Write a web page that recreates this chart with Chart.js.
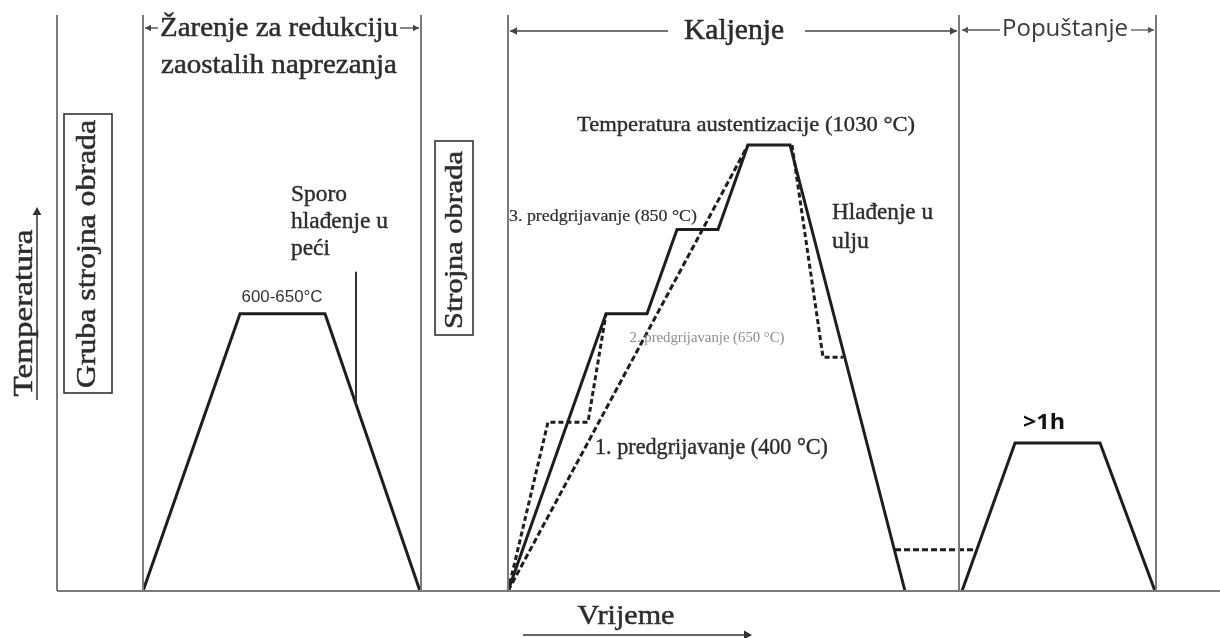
<!DOCTYPE html>
<html>
<head>
<meta charset="utf-8">
<script src="https://cdn.jsdelivr.net/npm/chart.js@4.4.1/dist/chart.umd.min.js"></script>
<style>
html,body{margin:0;padding:0;background:#fff;}
#wrap{width:1220px;height:638px;position:relative;}
</style>
</head>
<body>
<div id="wrap"><canvas id="c"></canvas></div>
<script>
// ---- Data (time in arbitrary units, temperature in °C) ----
const annealTime = [143, 240, 325, 420];
const annealTemp = [0, 640, 640, 0];

const hardTime = [508, 606, 647, 677, 718, 748, 790, 905];
const hardTemp = [0, 640, 640, 835, 835, 1030, 1030, 0];

const stepTime = [508, 548, 588, 606];
const stepTemp = [0, 390, 390, 640];

const directTime = [508, 748];
const directTemp = [0, 1030];

const coolStepTime = [792, 823, 843];
const coolStepTemp = [1030, 540, 540];

const oilTime = [895, 977];
const oilTemp = [95, 95];

const temperTime = [962, 1015, 1100, 1155];
const temperTemp = [0, 342, 342, 0];

const phaseBounds = [57, 143, 421, 508, 959, 1156];
const phaseTop = 1330;
const baselineTime = [57, 1220];
const slowCoolMarkTime = 356;
const slowCoolMarkTemp = [430, 737];

const headerLabels = ["Žarenje za redukciju", "zaostalih naprezanja", "Kaljenje", "Popuštanje"];
const noteLabels = ["600-650°C", "Sporo", "hlađenje u", "peći",
  "Temperatura austentizacije (1030 °C)", "3. predgrijavanje (850 °C)",
  "2. predgrijavanje (650 °C)", "1. predgrijavanje (400 °C)", "Hlađenje u", "ulju", ">1h"];
const axisLabels = ["Temperatura", "Vrijeme"];
const boxLabels = ["Gruba strojna obrada", "Strojna obrada"];

// ---- helpers ----
const pts = (xs, ys) => xs.map((x, i) => ({x: x, y: ys[i]}));
const INK = '#1e1e1e';
const GRAY = '#7a7a7a';

function lineDs(xs, ys, color, width, dash) {
  return {data: pts(xs, ys), borderColor: color, borderWidth: width, borderDash: dash || [],
    pointRadius: 0, showLine: true, fill: false, tension: 0, borderJoinStyle: 'miter'};
}

const datasets = [];
phaseBounds.forEach(b => datasets.push(lineDs([b, b], [0, phaseTop], GRAY, 2)));
datasets.push(lineDs(baselineTime, [0, 0], GRAY, 2));
datasets.push(lineDs([slowCoolMarkTime, slowCoolMarkTime], slowCoolMarkTemp, '#333', 2));
datasets.push(lineDs(annealTime, annealTemp, INK, 3));
datasets.push(lineDs(hardTime, hardTemp, INK, 3));
datasets.push(lineDs(stepTime, stepTemp, INK, 3, [5, 3]));
datasets.push(lineDs(directTime, directTemp, INK, 3, [6, 3]));
datasets.push(lineDs(coolStepTime, coolStepTemp, INK, 3, [5, 3]));
datasets.push(lineDs(oilTime, oilTemp, INK, 3, [6, 3]));
datasets.push(lineDs(temperTime, temperTemp, INK, 3));

const SERIF = '"Liberation Serif", "DejaVu Serif", serif';
const SANS = '"Open Sans", "Noto Sans", sans-serif';

function arrowHead(ctx, x, y, dir, size) {
  ctx.beginPath();
  if (dir === 'l') { ctx.moveTo(x, y); ctx.lineTo(x + size, y - size * 0.55); ctx.lineTo(x + size, y + size * 0.55); }
  if (dir === 'r') { ctx.moveTo(x, y); ctx.lineTo(x - size, y - size * 0.55); ctx.lineTo(x - size, y + size * 0.55); }
  if (dir === 'u') { ctx.moveTo(x, y); ctx.lineTo(x - size * 0.55, y + size); ctx.lineTo(x + size * 0.55, y + size); }
  ctx.closePath(); ctx.fill();
}
function hline(ctx, x1, x2, y) { ctx.beginPath(); ctx.moveTo(x1, y); ctx.lineTo(x2, y); ctx.stroke(); }

// draw text at (x,y) [align: left/center], rotated by rot, stretched to width w
function fitText(ctx, str, x, y, font, w, color, align, rot, heavy) {
  ctx.save();
  ctx.translate(x, y);
  if (rot) ctx.rotate(rot);
  ctx.font = font;
  const m = ctx.measureText(str).width;
  const sx = w ? w / m : 1;
  ctx.scale(sx, 1);
  ctx.textBaseline = 'middle';
  ctx.textAlign = 'left';
  const ox = (align === 'left') ? 0 : -m / 2;
  ctx.fillStyle = color || '#2d2d2d';
  ctx.fillText(str, ox, 0);
  if (heavy) {
    ctx.strokeStyle = color || '#2d2d2d';
    ctx.lineWidth = heavy;
    ctx.strokeText(str, ox, 0);
  }
  ctx.restore();
}

const decor = {
  id: 'decor',
  afterDatasetsDraw(chart) {
    const ctx = chart.ctx;
    const X = v => chart.scales.x.getPixelForValue(v);
    ctx.save();
    const T = '#2d2d2d';

    // Header: Žarenje
    fitText(ctx, headerLabels[0], 279, 29, '28px ' + SERIF, 238, T, 'center', 0, 0.5);
    fitText(ctx, headerLabels[1], 279, 66, '28px ' + SERIF, 236, T, 'center', 0, 0.5);
    ctx.strokeStyle = '#444'; ctx.fillStyle = '#444'; ctx.lineWidth = 1.3;
    hline(ctx, X(145), 158, 28); arrowHead(ctx, X(145), 28, 'l', 6);
    hline(ctx, 400, X(419), 28); arrowHead(ctx, X(419), 28, 'r', 6);

    // Kaljenje
    fitText(ctx, headerLabels[2], 734, 31, '29px ' + SERIF, 100, T, 'center', 0, 0.6);
    ctx.strokeStyle = '#444'; ctx.fillStyle = '#444'; ctx.lineWidth = 1.5;
    hline(ctx, X(510), 668, 31); arrowHead(ctx, X(510), 31, 'l', 7);
    hline(ctx, 805, X(957), 31); arrowHead(ctx, X(957), 31, 'r', 7);

    // Popuštanje
    fitText(ctx, headerLabels[3], 1065, 29, '23px ' + SANS, 126, '#3a3a3a', 'center', 0, 0);
    ctx.strokeStyle = '#555'; ctx.fillStyle = '#555'; ctx.lineWidth = 1.3;
    hline(ctx, X(962), 1000, 30); arrowHead(ctx, X(962), 30, 'l', 6);
    hline(ctx, 1131, X(1154), 30); arrowHead(ctx, X(1154), 30, 'r', 6);

    // Annealing notes
    fitText(ctx, noteLabels[0], 282, 298, '16px "Liberation Sans", Arial, sans-serif', 81, '#333', 'center', 0, 0);
    fitText(ctx, noteLabels[1], 291, 195, '23px ' + SERIF, 56, T, 'left', 0, 0.4);
    fitText(ctx, noteLabels[2], 291, 222, '23px ' + SERIF, 97, T, 'left', 0, 0.4);
    fitText(ctx, noteLabels[3], 291, 249, '23px ' + SERIF, 39, T, 'left', 0, 0.4);

    // Hardening notes
    fitText(ctx, noteLabels[4], 746, 125, '22px ' + SERIF, 338, T, 'center', 0, 0.4);
    fitText(ctx, noteLabels[5], 509, 217, '16px ' + SERIF, 188, T, 'left', 0, 0.2);
    fitText(ctx, noteLabels[6], 707, 338, '14px ' + SERIF, 155, '#8c8c8c', 'center', 0, 0);
    fitText(ctx, noteLabels[7], 595, 448, '23px ' + SERIF, 233, T, 'left', 0, 0.4);
    fitText(ctx, noteLabels[8], 832, 213, '23px ' + SERIF, 101, T, 'left', 0, 0.4);
    fitText(ctx, noteLabels[9], 832, 242, '23px ' + SERIF, 37, T, 'left', 0, 0.4);

    // Tempering
    fitText(ctx, noteLabels[10], 1044, 423, 'bold 22px ' + SANS, 42, '#111', 'center', 0, 0);

    // Vrijeme + arrow
    fitText(ctx, axisLabels[1], 626, 617, '28px ' + SERIF, 97, T, 'center', 0, 0.5);
    ctx.strokeStyle = '#333'; ctx.fillStyle = '#333'; ctx.lineWidth = 1.5;
    hline(ctx, 523, 750, 635); arrowHead(ctx, 752, 635, 'r', 8);

    // Temperatura (rotated) + arrow
    fitText(ctx, axisLabels[0], 25, 313, '27px ' + SERIF, 167, T, 'center', -Math.PI / 2, 0.5);
    ctx.strokeStyle = '#333'; ctx.fillStyle = '#333'; ctx.lineWidth = 1.5;
    ctx.beginPath(); ctx.moveTo(37, 400); ctx.lineTo(37, 214); ctx.stroke();
    arrowHead(ctx, 37, 207, 'u', 8);

    // Boxes
    ctx.strokeStyle = '#333'; ctx.lineWidth = 1.6;
    ctx.strokeRect(64, 114, 48, 279);
    fitText(ctx, boxLabels[0], 88, 254, '27px ' + SERIF, 268, T, 'center', -Math.PI / 2, 0.5);
    ctx.strokeStyle = '#333'; ctx.lineWidth = 1.6;
    ctx.strokeRect(435, 141, 38, 194);
    fitText(ctx, boxLabels[1], 455, 240, '25px ' + SERIF, 178, T, 'center', -Math.PI / 2, 0.5);

    ctx.restore();
  }
};

// temperature scale chosen so 0 °C sits on the baseline and 1030 °C on the austenitizing plateau
const degPerPx = 1030 / 446;
new Chart(document.getElementById('c'), {
  type: 'scatter',
  data: {datasets: datasets},
  options: {
    responsive: true, maintainAspectRatio: false, animation: false,
    layout: {padding: 0},
    plugins: {legend: {display: false}, tooltip: {enabled: false}},
    events: [],
    scales: {
      x: {type: 'linear', min: 0, max: 1220, display: false},
      y: {type: 'linear', min: -(638 - 591) * degPerPx, max: 591 * degPerPx, display: false}
    }
  },
  plugins: [decor]
});
</script>
</body>
</html>
